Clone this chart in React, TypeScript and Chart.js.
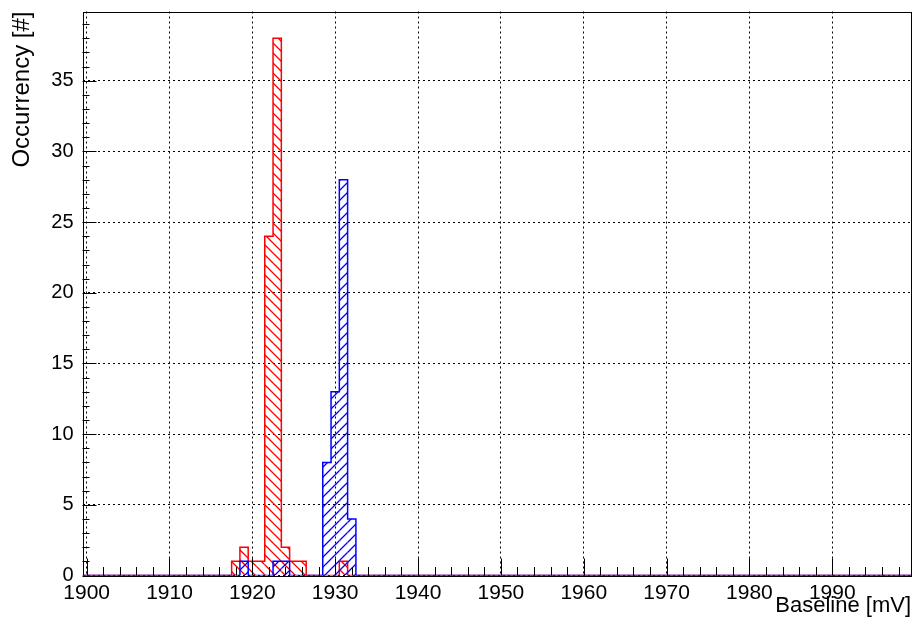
import { useEffect, useRef } from 'react';
import { Chart, registerables } from 'chart.js';

Chart.register(...registerables);

// Histogram bins (1 mV wide, centred on whole millivolts)
const binCenters = [1917, 1918, 1919, 1920, 1921, 1922, 1923, 1924, 1925, 1926, 1927, 1928, 1929, 1930, 1931, 1932, 1933];
const redCounts = [0, 1, 2, 1, 1, 24, 38, 2, 1, 1, 0, 0, 0, 0, 1, 0, 0];
const blueCounts = [0, 0, 1, 0, 0, 0, 1, 1, 0, 0, 0, 0, 8, 13, 28, 4, 0];

// Axis ranges and tick marks
const xRange = [1899.5, 1999.5];
const yRange = [0, 39.9];
const xMajorTicks = [1900, 1910, 1920, 1930, 1940, 1950, 1960, 1970, 1980, 1990];
const yMajorTicks = [0, 5, 10, 15, 20, 25, 30, 35];
const xMinorStep = 2;
const yMinorStep = 1;

const FONT = '"Liberation Sans", Arial, Helvetica, sans-serif';
const RED = '#ff0000';
const BLUE = '#0000ff';

// Diagonal hatch tile ("down" = \\\, "up" = ///)
function hatch(color: string, dir: 'down' | 'up', size: number) {
  const c = document.createElement('canvas');
  c.width = size;
  c.height = size;
  const g = c.getContext('2d')!;
  g.strokeStyle = color;
  g.lineWidth = 1.3;
  g.beginPath();
  if (dir === 'down') {
    g.moveTo(-2, -2); g.lineTo(size + 2, size + 2);
    g.moveTo(-2, size - 2); g.lineTo(2, size + 2);
    g.moveTo(size - 2, -2); g.lineTo(size + 2, 2);
  } else {
    g.moveTo(-2, size + 2); g.lineTo(size + 2, -2);
    g.moveTo(-2, 2); g.lineTo(2, -2);
    g.moveTo(size - 2, size + 2); g.lineTo(size + 2, size - 2);
  }
  g.stroke();
  return g.createPattern(c, 'repeat')!;
}

// Step outline of a histogram across the full axis range
function outline(counts: number[]) {
  const pts: { x: number; y: number }[] = [{ x: xRange[0], y: 0 }];
  binCenters.forEach((c, i) => {
    pts.push({ x: c - 0.5, y: counts[i] }, { x: c + 0.5, y: counts[i] });
  });
  pts.push({ x: xRange[1], y: 0 });
  return pts;
}

function bars(counts: number[]) {
  return binCenters.map((c, i) => ({ x: c, y: counts[i] }));
}

const framePlugin = {
  id: 'frame',
  beforeDatasetsDraw(chart: any) {
    const { ctx, chartArea } = chart;
    const { left, right, top, bottom } = chartArea;
    ctx.save();
    ctx.strokeStyle = '#000';
    ctx.lineWidth = 1;
    ctx.strokeRect(Math.round(left) + 0.5, Math.round(top) + 0.5, Math.round(right) - Math.round(left), Math.round(bottom) - Math.round(top));
    ctx.restore();
  },
  afterDatasetsDraw(chart: any) {
    const { ctx, chartArea, scales } = chart;
    const { left, bottom } = chartArea;
    const x = scales.x;
    const y = scales.y;
    ctx.save();
    ctx.strokeStyle = '#000';
    ctx.lineWidth = 1;
    ctx.beginPath();
    for (let v = xMajorTicks[0]; v < xRange[1]; v += xMinorStep) {
      const px = Math.round(x.getPixelForValue(v)) + 0.5;
      const len = xMajorTicks.includes(v) ? 17 : 8.5;
      ctx.moveTo(px, bottom);
      ctx.lineTo(px, bottom - len);
    }
    for (let v = yRange[0]; v < yRange[1]; v += yMinorStep) {
      const py = Math.round(y.getPixelForValue(v)) + 0.5;
      const len = yMajorTicks.includes(v) ? 14 : 7;
      ctx.moveTo(left, py);
      ctx.lineTo(left + len, py);
    }
    ctx.stroke();
    ctx.restore();
  },
};

export default function App() {
  const ref = useRef<HTMLCanvasElement>(null);

  useEffect(() => {
    const canvas = ref.current!;
    const redHatch = hatch(RED, 'down', 10);
    const blueHatch = hatch(BLUE, 'up', 10);
    const chart = new Chart(canvas, {
      type: 'bar',
      data: {
        datasets: [
          {
            type: 'bar',
            label: 'red fill',
            data: bars(redCounts),
            backgroundColor: redHatch,
            hoverBackgroundColor: redHatch,
            borderWidth: 0,
            inflateAmount: 0,
            grouped: false,
            barPercentage: 1,
            categoryPercentage: 1,
            order: 4,
          } as any,
          {
            type: 'line',
            label: 'red',
            data: outline(redCounts),
            borderColor: RED,
            borderWidth: 1.5,
            pointRadius: 0,
            fill: false,
            tension: 0,
            order: 3,
          },
          {
            type: 'bar',
            label: 'blue fill',
            data: bars(blueCounts),
            backgroundColor: blueHatch,
            hoverBackgroundColor: blueHatch,
            borderWidth: 0,
            inflateAmount: 0,
            grouped: false,
            barPercentage: 1,
            categoryPercentage: 1,
            order: 2,
          } as any,
          {
            type: 'line',
            label: 'blue',
            data: outline(blueCounts),
            borderColor: BLUE,
            borderWidth: 1.5,
            pointRadius: 0,
            fill: false,
            tension: 0,
            order: 1,
          },
        ],
      },
      options: {
        responsive: false,
        animation: false,
        devicePixelRatio: 1,
        layout: { padding: { top: 11.5, right: 4, left: 0, bottom: 0 } },
        plugins: { legend: { display: false }, tooltip: { enabled: false }, colors: { enabled: false } },
        scales: {
          x: {
            type: 'linear',
            offset: false,
            min: xRange[0],
            max: xRange[1],
            afterBuildTicks: (s: any) => {
              s.ticks = xMajorTicks.map((value) => ({ value }));
            },
            afterFit: (s: any) => {
              s.height = 54.5;
              s.paddingLeft = 0;
              s.paddingRight = 0;
            },
            ticks: {
              callback: (v: any) => String(v),
              autoSkip: false,
              maxRotation: 0,
              color: '#000',
              padding: 5,
              font: { family: FONT, size: 21 },
            },
            grid: { color: '#000', lineWidth: 1, drawTicks: false, offset: false },
            border: { display: false, dash: [2, 3] },
            title: {
              display: true,
              text: 'Baseline [mV]',
              align: 'end',
              color: '#000',
              font: { family: FONT, size: 22 },
              padding: { top: 0, bottom: 10.8 },
            },
          },
          y: {
            type: 'linear',
            min: yRange[0],
            max: yRange[1],
            afterBuildTicks: (s: any) => {
              s.ticks = yMajorTicks.map((value) => ({ value }));
            },
            afterFit: (s: any) => {
              s.width = 82.5;
              s.paddingTop = 0;
              s.paddingBottom = 0;
            },
            ticks: {
              callback: (v: any) => String(v),
              autoSkip: false,
              color: '#000',
              padding: 9,
              font: { family: FONT, size: 20 },
            },
            grid: { color: '#000', lineWidth: 1, drawTicks: false },
            border: { display: false, dash: [2, 3] },
            title: {
              display: true,
              text: 'Occurrency [#]',
              align: 'end',
              color: '#000',
              font: { family: FONT, size: 24 },
              padding: { top: 8, bottom: 0 },
            },
          },
        },
      } as any,
      plugins: [framePlugin],
    });
    return () => chart.destroy();
  }, []);

  return (
    <div style={{ position: 'fixed', left: 0, top: 0, width: 915, height: 630, background: '#fff' }}>
      <canvas ref={ref} width={915} height={630} style={{ display: 'block' }} />
    </div>
  );
}
